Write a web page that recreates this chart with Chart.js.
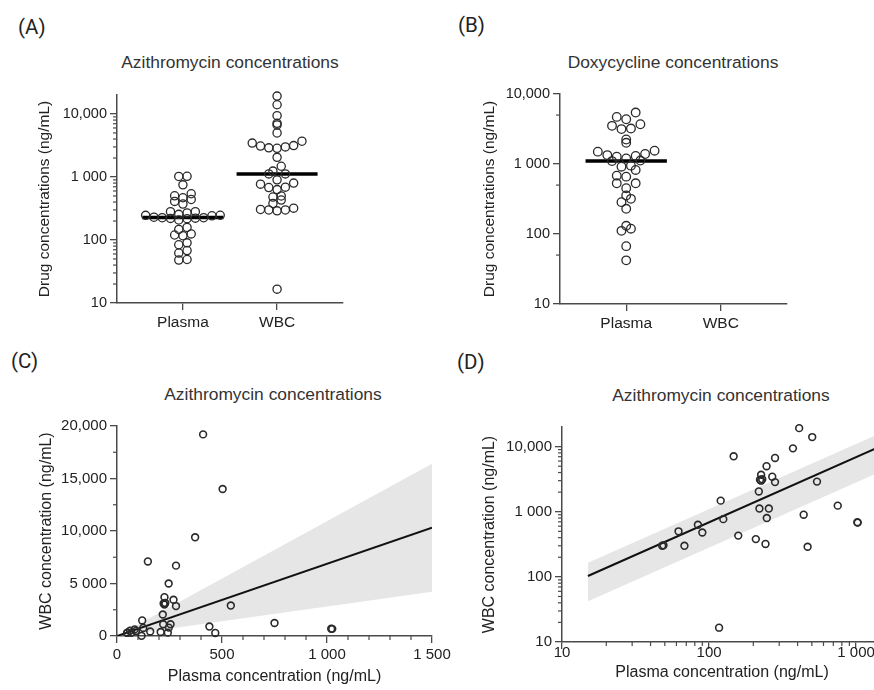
<!DOCTYPE html>
<html><head><meta charset="utf-8">
<script src="https://cdn.jsdelivr.net/npm/chart.js@4/dist/chart.umd.min.js"></script>
<style>
html,body{margin:0;padding:0;width:874px;height:690px;overflow:hidden;background:#fff;}
canvas{position:absolute;}
.lbl{position:absolute;font-family:Roboto,"Noto Sans",sans-serif;font-size:20.5px;color:#222;line-height:1;white-space:nowrap;}
.ttl{position:absolute;font-family:"Liberation Sans",Arial,sans-serif;font-size:17.4px;color:#333;line-height:1;white-space:nowrap;transform:translate(-50%,-50%);}
</style></head><body>
<div class="lbl" style="left:18px;top:17px">(A)</div>
<div class="lbl" style="left:458px;top:15px">(B)</div>
<div class="lbl" style="left:11px;top:351px">(C)</div>
<div class="lbl" style="left:457px;top:352px">(D)</div>
<div class="ttl" style="left:230px;top:63px">Azithromycin concentrations</div>
<div class="ttl" style="left:673px;top:63px">Doxycycline concentrations</div>
<div class="ttl" style="left:273px;top:395px">Azithromycin concentrations</div>
<div class="ttl" style="left:721px;top:396px">Azithromycin concentrations</div>
<canvas id="cA" width="360" height="260" style="left:0px;top:80px"></canvas>
<canvas id="cB" width="380" height="260" style="left:437px;top:80px"></canvas>
<canvas id="cC" width="460" height="290" style="left:0px;top:400px"></canvas>
<canvas id="cD" width="460" height="290" style="left:437px;top:400px"></canvas>
<script>
// ---------------- data ----------------
const groups = ['Plasma', 'WBC'];
// azithromycin, paired per patient (plasma, WBC), ng/mL
const azPlasma = [48, 49, 62, 68, 84, 90, 117, 120, 125, 147, 158, 208, 218, 220, 222, 226, 226, 230, 242, 246, 247, 255, 269, 281, 281, 372, 410, 440, 468, 503, 542, 750, 1020, 1025];
const azWBC    = [300, 305, 500, 300, 630, 480, 16.6, 1480, 770, 7100, 430, 380, 2050, 1120, 3100, 3700, 3000, 3150, 320, 5000, 800, 1120, 3450, 6700, 2850, 9400, 19200, 900, 290, 14000, 2900, 1240, 690, 680];
// doxycycline plasma, ng/mL
const doxPlasma = [42, 67, 111, 119, 131, 229, 285, 318, 355, 451, 530, 530, 660, 682, 822, 915, 947, 1100, 1120, 1200, 1270, 1300, 1340, 1390, 1500, 1550, 2010, 2240, 3150, 3210, 3510, 3700, 4360, 4710, 5430];
// fitted WBC = slope x plasma, with 95% CI of slope
const fitSlope = [6.87];
const fitSlopeCI = [2.81, 10.93];
const fitRangeLin = [0, 1500];
const fitRangeLog = [15, 1500];
// tick values / labels
const logTicks3 = [10, 100, 1000, 10000];
const logTickLabels3 = ['10', '100', '1 000', '10,000'];
const logTicks2 = [10, 100, 1000];
const logTickLabels2 = ['10', '100', '1 000'];
const wbcLinTicks = [0, 5000, 10000, 15000, 20000];
const wbcLinTickLabels = ['0', '5 000', '10,000', '15,000', '20,000'];
const plasmaLinTicks = [0, 500, 1000, 1500];
const plasmaLinTickLabels = ['0', '500', '1 000', '1 500'];

// ---------------- helpers ----------------
const FONT = '"Liberation Sans", Arial, Helvetica, sans-serif';
Chart.defaults.font.family = FONT;
Chart.defaults.color = '#222';
Chart.defaults.animation = false;
const AXIS = '#4a4a4a';

function median(a){ const s=[...a].sort((x,y)=>x-y); const n=s.length; return n%2? s[(n-1)/2] : (s[n/2-1]+s[n/2])/2; }
function logMinor(lo, hi, mults){ const out=[]; for(let d=lo; d<hi; d*=10){ mults.forEach(m=>{ if(d*m<hi) out.push(d*m); }); } return out; }
function linMinor(lo, hi, step, major){ const out=[]; for(let v=lo; v<=hi+1e-9; v+=step){ if(!major.includes(v)) out.push(v); } return out; }

// GraphPad-like row swarm: bin by log value, spread each row symmetrically
function swarm(values, center, dx, dLog){
  const rows = new Map();
  values.forEach(v=>{ const r=Math.round(Math.log10(v)/dLog); if(!rows.has(r)) rows.set(r,[]); rows.get(r).push(v); });
  const pts=[];
  rows.forEach(list=>{
    list.sort((a,b)=>a-b);
    const n=list.length, slots=[];
    for(let i=0;i<n;i++) slots.push(i-(n-1)/2);
    slots.sort((a,b)=>Math.abs(a)-Math.abs(b) || a-b);
    list.forEach((v,i)=>pts.push({x:center+slots[i]*dx, y:v}));
  });
  return pts;
}

const minorTicks = {
  id:'minorTicks',
  afterDraw(chart, args, opts){
    const ctx=chart.ctx; ctx.save(); ctx.strokeStyle=AXIS; ctx.lineWidth=1.2;
    (opts.axes||[]).forEach(a=>{
      const s=chart.scales[a.id];
      a.values.forEach(v=>{
        const p=s.getPixelForValue(v);
        ctx.beginPath();
        if(s.isHorizontal()){ ctx.moveTo(p, s.top); ctx.lineTo(p, s.top+a.len); }
        else { ctx.moveTo(s.right, p); ctx.lineTo(s.right-a.len, p); }
        ctx.stroke();
      });
    });
    ctx.restore();
  }
};

function axis(c){
  return {
    type:c.type, position:c.position, min:c.min, max:c.max,
    afterBuildTicks: s=>{ s.ticks=c.ticks.map(v=>({value:v})); },
    afterFit: s=>{ if(c.position==='left') s.width=c.size; else s.height=c.size; },
    ticks:{ autoSkip:false, maxRotation:0, padding:c.tickPad, color:'#222', font:{size:c.tickSize}, callback:(v,i)=>c.labels[i] },
    grid:{ drawOnChartArea:false, drawTicks:true, tickLength:7, color:AXIS, lineWidth:1.3 },
    border:{ display:true, color:AXIS, width:1.5 },
    title: c.title ? { display:true, text:c.title, color:'#222', font:{size:c.titleSize},
      padding: c.position==='left' ? {top:c.titlePad, bottom:0} : {top:0, bottom:c.titlePad} } : {display:false}
  };
}

function pointsDs(data, r, bw){
  return { data, showLine:false, pointRadius:r, pointHoverRadius:r, pointBackgroundColor:'rgba(0,0,0,0)',
    pointBorderColor:'#2a2a2a', pointBorderWidth:bw, order:0, clip:false };
}
function lineDs(data, w, color, order, extra){
  return Object.assign({ data, showLine:true, pointRadius:0, borderColor:color, borderWidth:w, order, fill:false }, extra||{});
}

function baseOpts(pad, scales, minor){
  return { responsive:false, animation:false, events:[],
    layout:{ padding:pad, autoPadding:false },
    plugins:{ legend:{display:false}, tooltip:{enabled:false}, title:{display:false}, minorTicks:{axes:minor} },
    scales };
}

// ---------------- Panel A ----------------
const MED_HALF = 0.43;
const medA = [median(azPlasma), median(azWBC)];
new Chart(document.getElementById('cA'), {
  type:'scatter',
  data:{ datasets:[
    pointsDs(swarm(azPlasma, 1, 0.088, 0.13).concat(swarm(azWBC, 2, 0.088, 0.13)), 4.1, 1.3),
    lineDs([{x:1-MED_HALF,y:medA[0]},{x:1+MED_HALF,y:medA[0]}], 3.5, '#000', 1),
    lineDs([{x:2-MED_HALF,y:medA[1]},{x:2+MED_HALF,y:medA[1]}], 3.5, '#000', 1)
  ]},
  options: baseOpts({top:15, right:17, left:0, bottom:0}, {
    x: axis({type:'linear', position:'bottom', min:0.3, max:2.7, ticks:[1,2], labels:groups, size:37, tickPad:3, tickSize:15.5}),
    y: axis({type:'logarithmic', position:'left', min:10, max:20000, ticks:logTicks3, labels:logTickLabels3, size:117, tickPad:3, tickSize:14.5,
      title:'Drug concentrations (ng/mL)', titleSize:15.5, titlePad:35.7})
  }, [{id:'y', values:logMinor(10, 20000, [2,3,4,5,6,7,8,9]), len:4}]),
  plugins:[minorTicks]
});

// ---------------- Panel B ----------------
const medB = median(doxPlasma);
new Chart(document.getElementById('cB'), {
  type:'scatter',
  data:{ datasets:[
    pointsDs(swarm(doxPlasma, 1, 0.1, 0.136), 4.3, 1.3),
    lineDs([{x:1-MED_HALF,y:medB},{x:1+MED_HALF,y:medB}], 3.5, '#000', 1)
  ]},
  options: baseOpts({top:14, right:30, left:0, bottom:0}, {
    x: axis({type:'linear', position:'bottom', min:0.3, max:2.7, ticks:[1,2], labels:groups, size:36, tickPad:3, tickSize:15.5}),
    y: axis({type:'logarithmic', position:'left', min:10, max:10000, ticks:logTicks3, labels:logTickLabels3, size:123, tickPad:3, tickSize:14.5,
      title:'Drug concentrations (ng/mL)', titleSize:15.5, titlePad:43.7})
  }, [{id:'y', values:[50, 500, 5000], len:4}]),
  plugins:[minorTicks]
});

// ---------------- Panel C ----------------
const pairs = azPlasma.map((p,i)=>({x:p, y:azWBC[i]}));
function fitLine(range, k){ return range.map(x=>({x, y:k*x})); }
new Chart(document.getElementById('cC'), {
  type:'scatter',
  data:{ datasets:[
    pointsDs(pairs, 3.4, 1.6),
    lineDs(fitLine(fitRangeLin, fitSlope[0]), 2, '#111', 1),
    lineDs(fitLine(fitRangeLin, fitSlopeCI[1]), 0, 'rgba(0,0,0,0)', 2, {fill:'+1', backgroundColor:'#e6e6e6'}),
    lineDs(fitLine(fitRangeLin, fitSlopeCI[0]), 0, 'rgba(0,0,0,0)', 3)
  ]},
  options: baseOpts({top:26, right:28, left:0, bottom:0}, {
    x: axis({type:'linear', position:'bottom', min:0, max:1500, ticks:plasmaLinTicks, labels:plasmaLinTickLabels, size:54, tickPad:3, tickSize:15,
      title:'Plasma concentration (ng/mL)', titleSize:16, titlePad:3.4}),
    y: axis({type:'linear', position:'left', min:0, max:20000, ticks:wbcLinTicks, labels:wbcLinTickLabels, size:117, tickPad:3, tickSize:15,
      title:'WBC concentration (ng/mL)', titleSize:16, titlePad:37.4})
  }, [{id:'y', values:linMinor(0, 20000, 2500, wbcLinTicks), len:4},
      {id:'x', values:linMinor(0, 1500, 100, plasmaLinTicks), len:4}]),
  plugins:[minorTicks]
});

// ---------------- Panel D ----------------
new Chart(document.getElementById('cD'), {
  type:'scatter',
  data:{ datasets:[
    pointsDs(pairs, 3.4, 1.6),
    lineDs(fitLine(fitRangeLog, fitSlope[0]), 2, '#111', 1),
    lineDs(fitLine(fitRangeLog, fitSlopeCI[1]), 0, 'rgba(0,0,0,0)', 2, {fill:'+1', backgroundColor:'#e6e6e6'}),
    lineDs(fitLine(fitRangeLog, fitSlopeCI[0]), 0, 'rgba(0,0,0,0)', 3)
  ]},
  options: baseOpts({top:27, right:15, left:0, bottom:0}, {
    x: axis({type:'logarithmic', position:'bottom', min:10, max:1500, ticks:logTicks2, labels:logTickLabels2, size:48, tickPad:-5, tickSize:15,
      title:'Plasma concentration (ng/mL)', titleSize:16, titlePad:7.4}),
    y: axis({type:'logarithmic', position:'left', min:10, max:20000, ticks:logTicks3, labels:logTickLabels3, size:125, tickPad:3, tickSize:15,
      title:'WBC concentration (ng/mL)', titleSize:16, titlePad:43.4})
  }, [{id:'y', values:logMinor(10, 20000, [2,3,4,5,6,7,8,9]), len:4},
      {id:'x', values:logMinor(10, 1500, [2,3,4,5,6,7,8,9]), len:4}]),
  plugins:[minorTicks]
});
</script>
</body></html>
